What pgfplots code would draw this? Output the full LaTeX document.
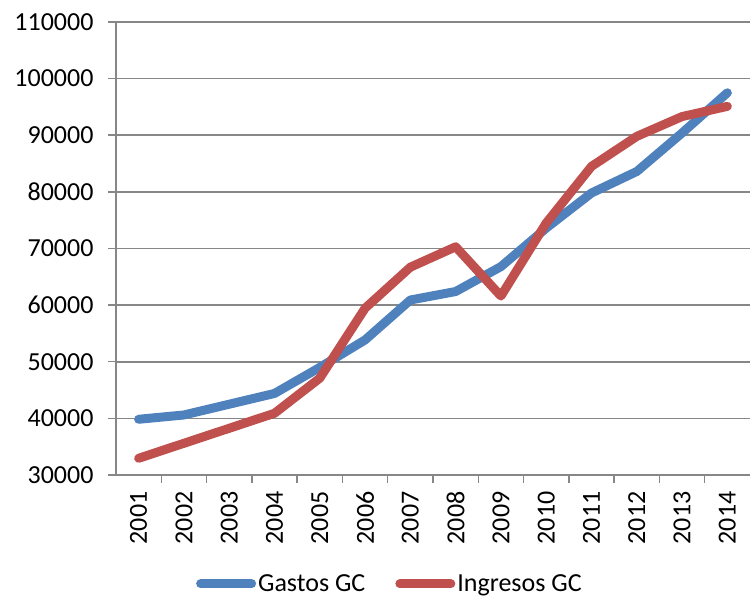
\documentclass[border=0pt]{standalone}
\usepackage{fontspec}
\setmainfont{Carlito}
\usepackage{pgfplots}
\pgfplotsset{compat=1.18}
\definecolor{gblue}{HTML}{4F81BD}
\definecolor{gred}{HTML}{C0504D}
\definecolor{ggrid}{HTML}{878787}
\newcommand{\lblfont}{\fontsize{26bp}{31bp}\selectfont}
\begin{document}
\begin{tikzpicture}
\begin{axis}[
  scale only axis,
  width=634bp, height=453bp,
  xmin=0.5, xmax=14.5,
  ymin=30000, ymax=110000,
  ytick={30000,40000,...,110000},
  yticklabels={30000,40000,50000,60000,70000,80000,90000,100000,110000},
  xtick={1,...,14},
  xticklabels={2001,2002,2003,2004,2005,2006,2007,2008,2009,2010,2011,2012,2013,2014},
  minor xtick={1.5,2.5,...,13.5},
  scaled y ticks=false,
  tick label style={font=\lblfont, text=black},
  xticklabel style={yshift=-5bp, rotate=90, anchor=east},
  yticklabel style={xshift=-11bp},
  tick align=outside,
  major tick length=8bp,
  minor tick length=8bp,
  major x tick style={draw=none},
  minor x tick style={draw=ggrid, line width=1.5bp},
  major y tick style={draw=ggrid, line width=1.5bp},
  axis x line*=bottom,
  axis y line*=left,
  axis line style={draw=ggrid, line width=2bp},
  ymajorgrids,
  major grid style={draw=ggrid, line width=1.6bp},
  legend columns=2,
  legend style={draw=none, fill=none, font=\lblfont, at={(0.432,-0.2405)}, anchor=center,
    /tikz/every even column/.append style={column sep=28bp},
    nodes={inner xsep=2bp}},
  legend image code/.code={\draw[#1, line cap=round] (0bp,0bp) -- (51bp,0bp);},
  every axis plot/.append style={line width=9bp, line cap=round, line join=round},
]
\addplot[gblue] coordinates {
 (1,39840) (2,40600) (3,42500) (4,44400) (5,49000) (6,53850) (7,60900)
 (8,62400) (9,66800) (10,73600) (11,79800) (12,83600) (13,90400) (14,97500)};
\addlegendentry{Gastos GC}
\addplot[gred] coordinates {
 (1,32950) (2,35600) (3,38250) (4,40900) (5,47100) (6,59450) (7,66700)
 (8,70300) (9,61600) (10,74500) (11,84500) (12,89800) (13,93300) (14,95100)};
\addlegendentry{Ingresos GC}
\coordinate (bl) at (rel axis cs:0,0);
\coordinate (tr) at (rel axis cs:1,1);
\end{axis}
\pgfresetboundingbox
\useasboundingbox ([xshift=-116bp,yshift=-124bp]bl) rectangle ([yshift=22bp]tr);
\end{tikzpicture}
\end{document}
